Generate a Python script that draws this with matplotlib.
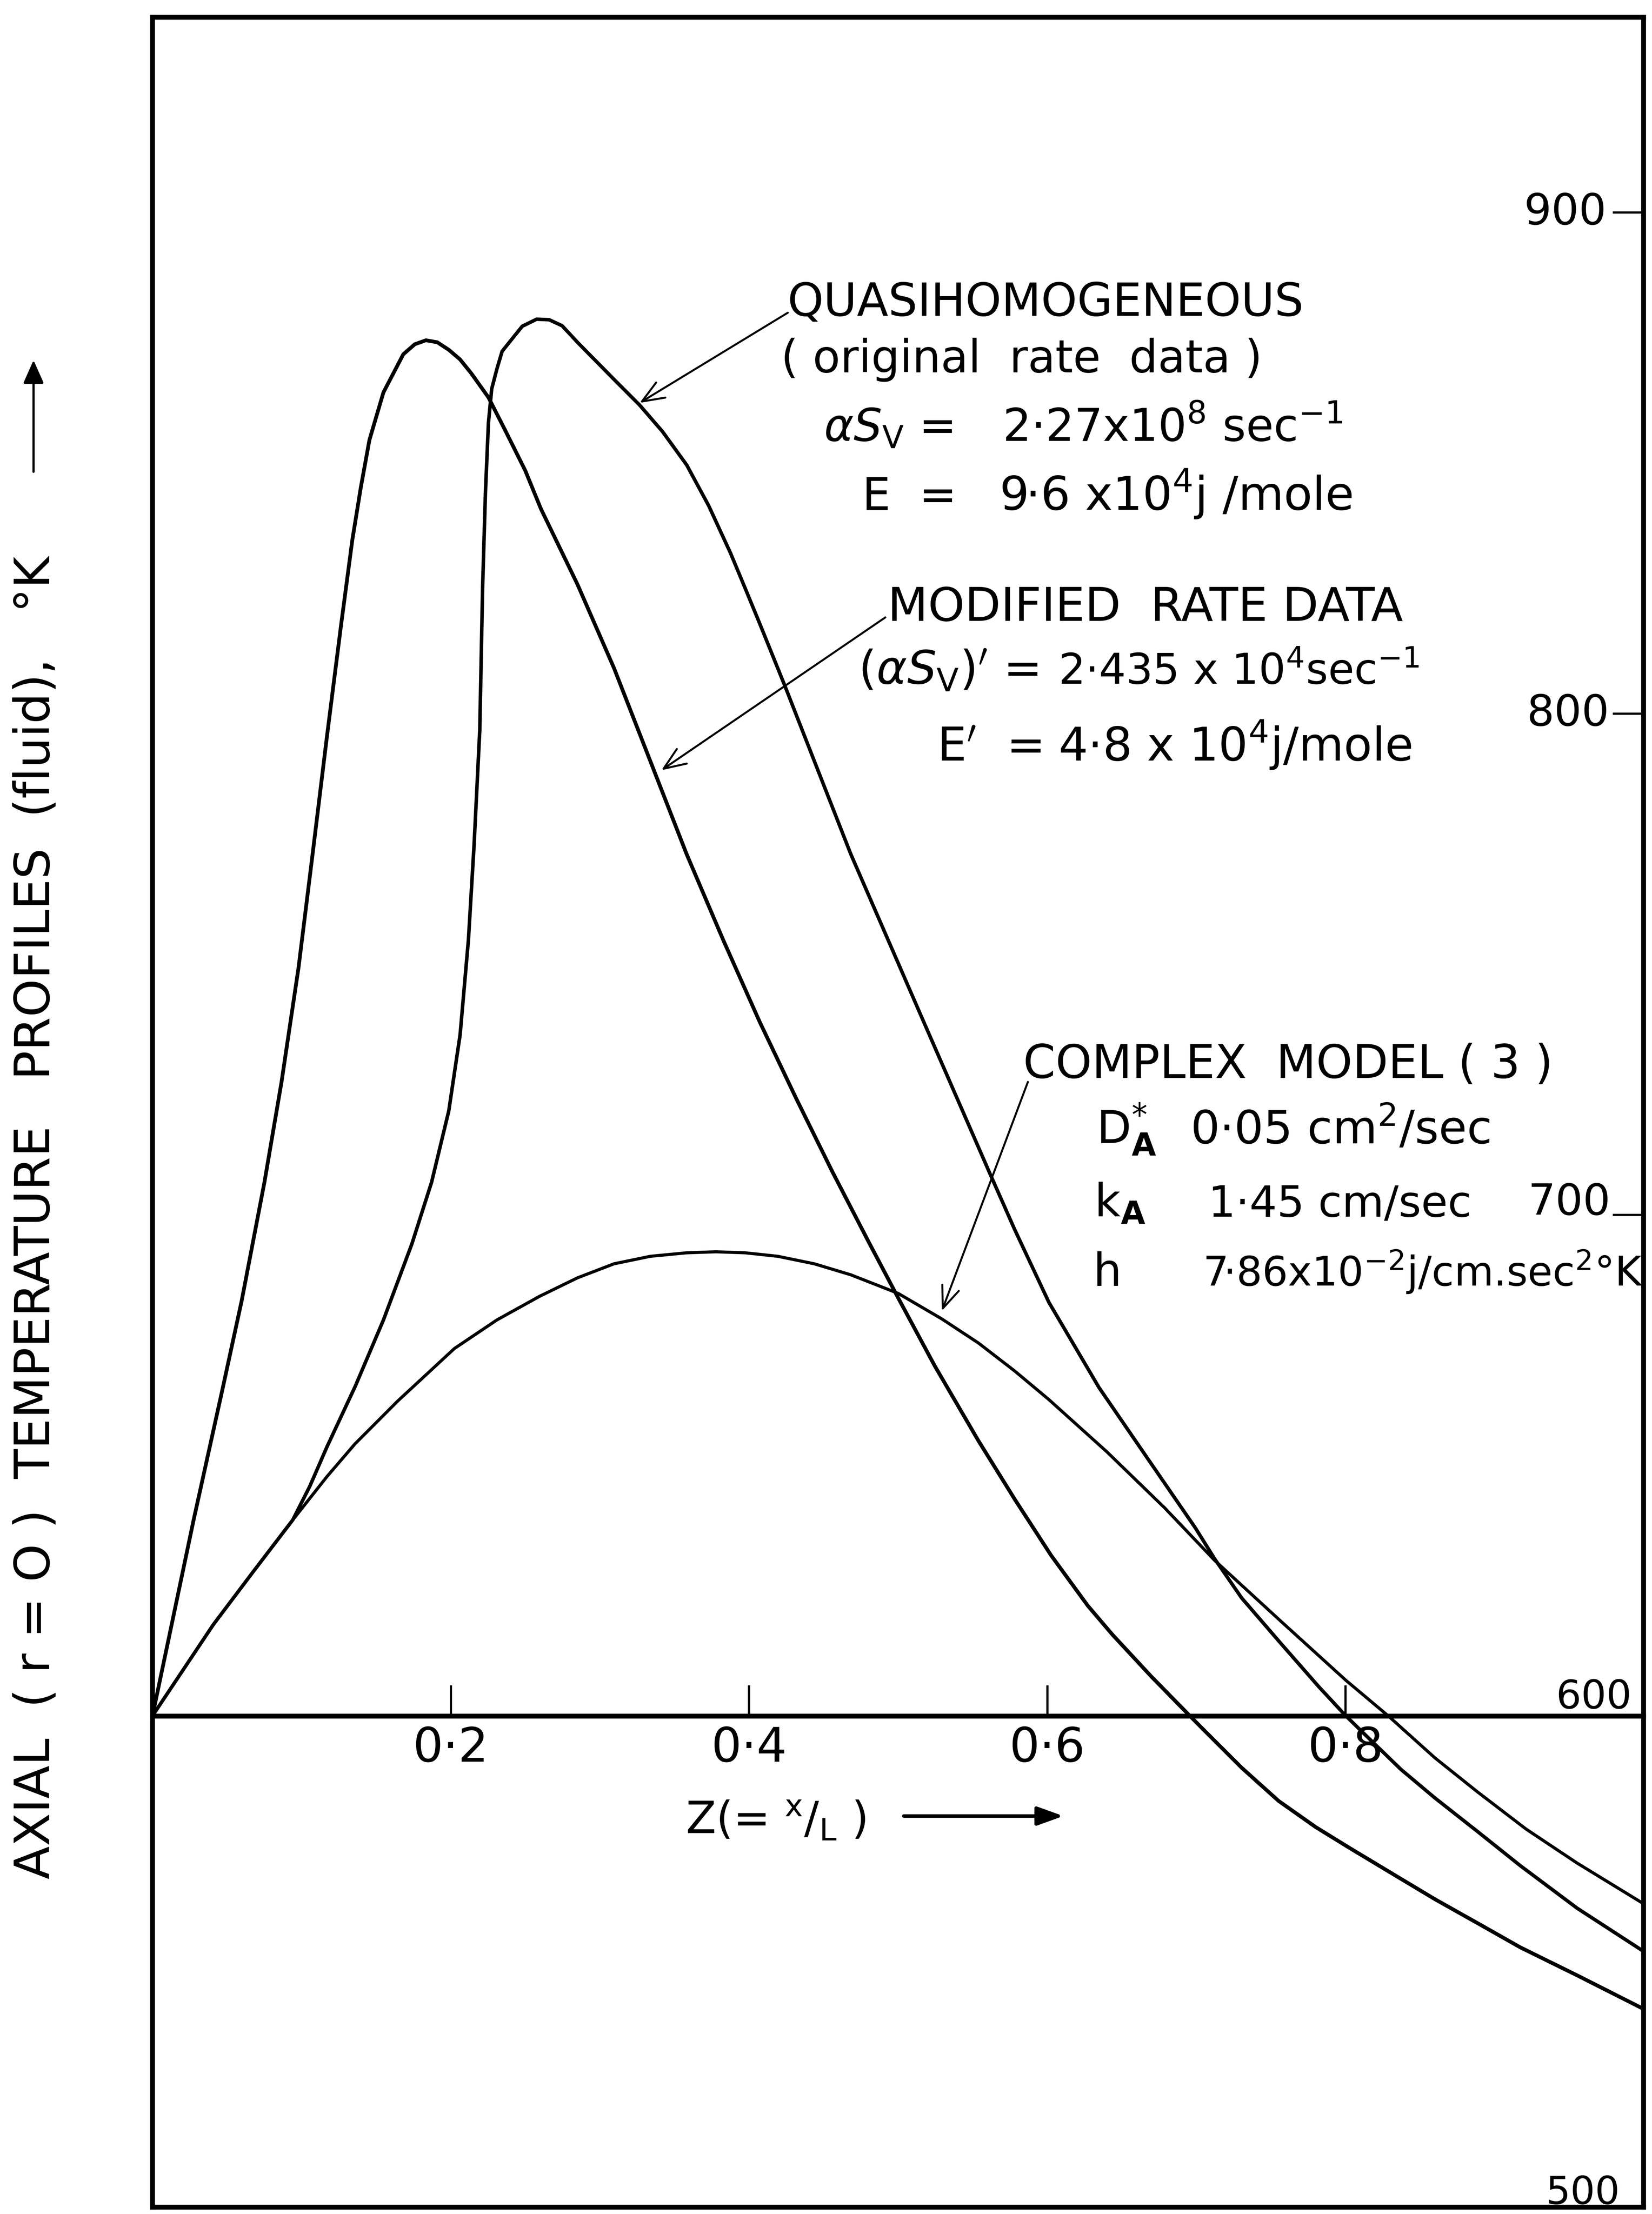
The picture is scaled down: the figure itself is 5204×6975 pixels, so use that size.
import matplotlib
matplotlib.use("Agg")
import matplotlib.pyplot as plt

plt.rcParams['font.family'] = ['DejaVu Sans']
plt.rcParams['mathtext.fontset'] = 'dejavusans'

# z = x/L and axial (r=0) fluid temperature in K
z_modified = [0, 0.0276, 0.0466, 0.0598, 0.0751, 0.0865, 0.0979, 0.1074, 0.1169, 0.1264,
              0.134, 0.1397, 0.1455, 0.1549, 0.1682, 0.1759, 0.1834, 0.191, 0.1987, 0.2062,
              0.2138, 0.2253, 0.2366, 0.25, 0.2606, 0.285, 0.3095, 0.3339, 0.3583, 0.3828,
              0.4072, 0.4317, 0.4561, 0.4806, 0.5001, 0.5245, 0.5539, 0.5783, 0.6027, 0.6272,
              0.6438, 0.67, 0.698, 0.7077, 0.7306, 0.7553, 0.7801, 0.803, 0.8315, 0.8601,
              0.8906, 0.9173, 0.9555, 1.0]
t_modified = [600, 639.1, 664.7, 682.8, 706.5, 726.4, 749.2, 772.0, 795.2, 817.5,
              834.6, 845.1, 854.6, 864.1, 871.7, 873.7, 874.5, 874.1, 872.6, 870.7,
              867.9, 863.1, 856.5, 848.5, 840.8, 825.8, 809.1, 790.5, 771.9, 754.8,
              738.5, 723.2, 708.5, 694.4, 683.4, 669.9, 654.9, 643.2, 632.0, 622.0,
              616.2, 607.8, 599.3, 596.4, 589.6, 583.0, 577.8, 573.6, 568.5, 563.4,
              558.3, 553.8, 548.2, 541.5]

z_quasi = [0, 0.0408, 0.0674, 0.0941, 0.1055, 0.1169, 0.1359, 0.1549, 0.174, 0.1872,
           0.1987, 0.2063, 0.2119, 0.2157, 0.2195, 0.2214, 0.2233, 0.2253, 0.2275, 0.231,
           0.2345, 0.2404, 0.248, 0.2576, 0.266, 0.2747, 0.285, 0.3095, 0.3266, 0.342,
           0.3583, 0.373, 0.3877, 0.3975, 0.4072, 0.4243, 0.4439, 0.4684, 0.4928, 0.5172,
           0.5417, 0.5612, 0.5783, 0.6012, 0.6348, 0.6659, 0.6994, 0.7124, 0.7305, 0.7563,
           0.7822, 0.8003, 0.8144, 0.8373, 0.8601, 0.8887, 0.9173, 0.9555, 1.0]
t_quasi = [600, 618.2, 628.7, 639.1, 645.8, 653.6, 665.7, 679.0, 694.2, 706.5,
           720.7, 735.9, 754.9, 773.9, 796.7, 825.2, 844.1, 858.0, 864.8, 868.8,
           872.3, 874.5, 877.3, 878.7, 878.6, 877.4, 874.1, 866.7, 861.6, 856.3,
           849.6, 841.5, 832.0, 825.0, 818.0, 805.4, 790.5, 771.9, 755.2, 738.5,
           721.8, 708.5, 697.0, 682.5, 665.5, 652.0, 637.5, 631.3, 623.5, 614.6,
           605.8, 600, 595.9, 589.3, 583.6, 576.9, 570.1, 561.6, 553.0]

z_complex = [0, 0.0408, 0.0674, 0.0941, 0.1169, 0.1359, 0.1644, 0.2025, 0.231, 0.2595,
             0.285, 0.3095, 0.3339, 0.3583, 0.3779, 0.3974, 0.4194, 0.4439, 0.4684, 0.5001,
             0.5294, 0.5539, 0.5783, 0.6012, 0.64, 0.6788, 0.7124, 0.7563, 0.8003, 0.8287,
             0.8601, 0.8887, 0.9212, 0.9555, 1.0]
t_complex = [600, 618.2, 628.7, 639.1, 647.7, 654.3, 662.8, 673.3, 679.0, 683.7,
             687.4, 690.2, 691.7, 692.4, 692.6, 692.4, 691.7, 690.2, 688.0, 684.3,
             679.2, 674.4, 668.8, 663.1, 652.7, 641.5, 631.0, 619.0, 607.1, 600,
             591.6, 584.8, 577.4, 570.6, 562.5]

z_ticks = [0.2, 0.4, 0.6, 0.8]
z_tick_labels = ["0·2", "0·4", "0·6", "0·8"]
t_ticks = [900, 800, 700]

fig = plt.figure(figsize=(52.04, 69.75), dpi=100)
ax = fig.add_axes([0.0923, 0.0032, 0.9026, 0.9891])
ax.set_xlim(0, 1.0)
ax.set_ylim(502, 939)
for s in ax.spines.values():
    s.set_linewidth(11)

line_kw = dict(color='black', solid_joinstyle='round', solid_capstyle='round')
ax.plot(z_modified, t_modified, lw=8.5, **line_kw)
ax.plot(z_quasi, t_quasi, lw=8, **line_kw)
ax.plot(z_complex, t_complex, lw=7, **line_kw)

# temperature ticks on the right frame, pointing inwards
ax.set_xticks([])
ax.yaxis.tick_right()
ax.set_yticks(t_ticks)
ax.tick_params(axis='y', direction='in', length=70, width=5, labelright=False)

ax.text(0.975, 900, "900", ha='right', va='center', fontsize=98)
ax.text(0.977, 800, "800", ha='right', va='center', fontsize=98)
ax.text(0.978, 700, "700", ha='right', va='baseline', fontsize=98)
ax.text(0.992, 601.5, "600", ha='right', va='baseline', fontsize=90)
ax.text(0.984, 502.6, "500", ha='right', va='baseline', fontsize=88, clip_on=False)

# z axis drawn along T = 600
secax = ax.secondary_xaxis((600 - 502) / (939 - 502))
secax.set_xticks(z_ticks, z_tick_labels)
secax.tick_params(direction='in', length=70, width=5, pad=22, labelsize=108)
secax.spines['bottom'].set_linewidth(11)

ax.text(0.3575, 576.5, r"Z(= $^{\mathrm{x}}/_{\mathrm{L}}$ )", fontsize=100, va='baseline')
ax.annotate("", xy=(0.6115, 580), xytext=(0.5033, 580),
            arrowprops=dict(arrowstyle="-|>,head_length=0.5,head_width=0.18",
                            lw=8, color='black', mutation_scale=100))

# annotations
arrow = dict(arrowstyle="->,head_length=0.5,head_width=0.2", lw=4.5, color='black',
             mutation_scale=100, shrinkA=0, shrinkB=0)
fs = 102

ax.text(0.426, 879.4, "QUASIHOMOGENEOUS", fontsize=104, va='baseline')
ax.text(0.4214, 868.1, "( original  rate  data )", fontsize=fs, va='baseline')
ax.text(0.4503, 854.4, r"$\alpha S_{\mathrm{V}}$ =", fontsize=fs, va='baseline')
ax.text(0.570, 854.4, r"2·27x10$^{8}$ sec$^{-1}$", fontsize=fs, va='baseline')
ax.text(0.476, 840.6, "E  =", fontsize=fs, va='baseline')
ax.text(0.568, 840.6, r"9·6 x10$^{4}$j /mole", fontsize=106, va='baseline')
ax.annotate("", xy=(0.3267, 862.0), xytext=(0.4261, 880.0), arrowprops=arrow)

ax.text(0.4929, 818.5, "MODIFIED  RATE DATA", fontsize=106, va='baseline')
ax.text(0.4735, 805.9, r"$(\alpha S_{\mathrm{V}})^{\prime}$ =", fontsize=105, va='baseline')
ax.text(0.6076, 805.9, r"2·435 x 10$^{4}$sec$^{-1}$", fontsize=96, va='baseline')
ax.text(0.5263, 790.6, r"E$^{\prime}$  =", fontsize=105, va='baseline')
ax.text(0.6076, 790.6, r"4·8 x 10$^{4}$j/mole", fontsize=105, va='baseline')
ax.annotate("", xy=(0.3413, 788.7), xytext=(0.4915, 819.2), arrowprops=arrow)

ax.text(0.584, 727.3, "COMPLEX  MODEL ( 3 )", fontsize=105, va='baseline')
ax.text(0.633, 714.2, r"D$^{*}_{\mathbf{A}}$", fontsize=fs, va='baseline')
ax.text(0.696, 714.2, r"0·05 cm$^{2}$/sec", fontsize=104, va='baseline')
ax.text(0.6315, 699.6, r"k$_{\mathbf{A}}$", fontsize=fs, va='baseline')
ax.text(0.708, 699.6, "1·45 cm/sec", fontsize=98, va='baseline')
ax.text(0.6307, 685.8, "h", fontsize=fs, va='baseline')
ax.text(0.7045, 685.8, r"7·86x10$^{-2}$j/cm.sec$^{2}$°K", fontsize=92, va='baseline')
ax.annotate("", xy=(0.5294, 680.8), xytext=(0.5871, 726.5), arrowprops=arrow)

# y label with its arrow, written up the left margin
fig.text(0.0218, 0.45, "AXIAL  ( r = O )  TEMPERATURE   PROFILES  (fluid),   °K",
         rotation=90, ha='center', va='center', fontsize=110)
ax.annotate("", xy=(0.0203, 0.8377), xytext=(0.0203, 0.7865),
            xycoords='figure fraction', textcoords='figure fraction',
            arrowprops=dict(arrowstyle="-|>,head_length=0.45,head_width=0.2",
                            lw=5, color='black', mutation_scale=100))

fig.savefig("out.png", dpi=100)
